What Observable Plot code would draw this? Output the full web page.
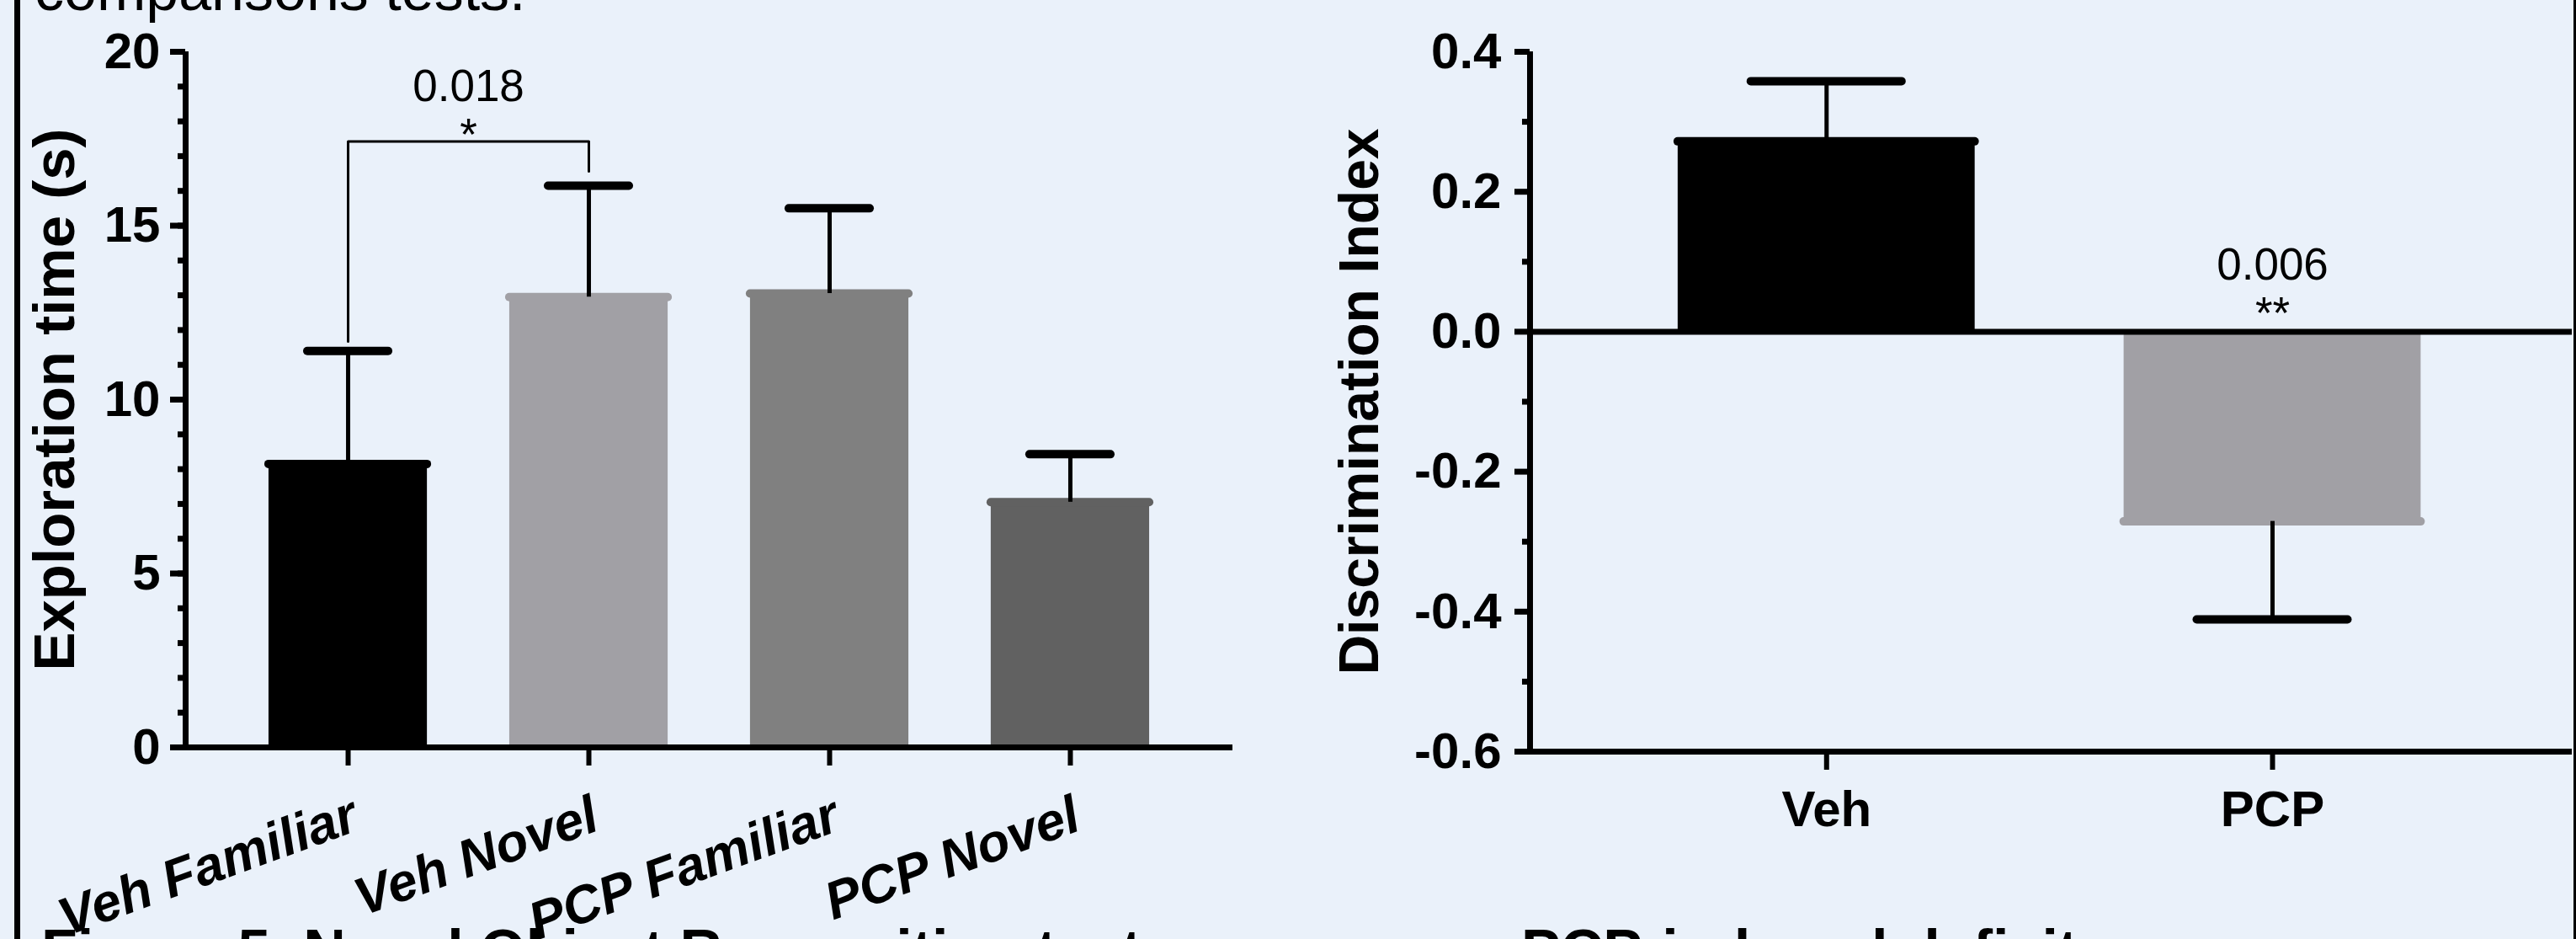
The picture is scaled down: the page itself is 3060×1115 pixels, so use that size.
<!DOCTYPE html>
<html>
<head>
<meta charset="utf-8">
<script src="https://cdn.jsdelivr.net/npm/d3@7"></script>
<script src="https://cdn.jsdelivr.net/npm/@observablehq/plot@0.6"></script>
<style>
  html, body { margin: 0; padding: 0; background: #EAF1FA; }
  #page { position: relative; width: 3060px; height: 1115px; overflow: hidden; background: #EAF1FA;
          font-family: "Liberation Sans", Arial, sans-serif; }
  .txt { position: absolute; white-space: nowrap; color: #000; z-index: 3; }
  .border { position: absolute; top: 0; height: 1115px; background: #000; z-index: 4; }
  .chart { position: absolute; top: 0; z-index: 1; }
  .chart svg { overflow: visible; }
</style>
</head>
<body>
<div id="page">
  <div class="txt" style="left:41px; top:-47px; font-size:70px; line-height:70px;">comparisons tests.</div>
  <div class="chart" id="left" style="left:0px;"></div>
  <div class="chart" id="right" style="left:1500px;"></div>
  <div class="txt" style="left:49px; top:1094px; font-size:70px; line-height:70px; font-weight:bold;">Figure 5. Novel Object Recognition test</div>
  <div class="txt" style="left:1807px; top:1094px; font-size:70px; line-height:70px; font-weight:bold;">PCP-induced deficit</div>
  <div class="border" style="left:17px; width:7px;"></div>
  <div class="border" style="left:3057px; width:3px;"></div>
</div>
<script>
// ---------- Left panel: exploration time ----------
const categories = ["Veh Familiar", "Veh Novel", "PCP Familiar", "PCP Novel"];
const explorationMean = [8.15, 12.95, 13.05, 7.05];
const explorationSem = [3.25, 3.2, 2.45, 1.38];
const barColors = ["#000000", "#A1A0A5", "#808080", "#616161"];
const yTicksLeft = [0, 5, 10, 15, 20];
const yMinorLeft = [0, 1, 2, 3, 4, 5, 6, 7, 8, 9, 10, 11, 12, 13, 14, 15, 16, 17, 18, 19, 20];
const yLabelLeft = "Exploration time (s)";
// significance bracket between Veh Familiar (0) and Veh Novel (1)
const bracketFrom = 0, bracketTo = 1;
const bracketTop = 17.42, bracketDropFrom = 11.67, bracketDropTo = 16.56;
const bracketP = "0.018", bracketStars = "*";
const bracketPY = 19.0, bracketStarsY = 17.6;

// ---------- Right panel: discrimination index ----------
const groups = ["Veh", "PCP"];
const diMean = [0.272, -0.271];
const diSem = [0.086, 0.14];
const diColors = ["#000000", "#A1A0A5"];
const yTicksRight = [-0.6, -0.4, -0.2, 0.0, 0.2, 0.4];
const yMinorRight = [-0.5, -0.3, -0.1, 0.1, 0.3];
const yLabelRight = "Discrimination Index";
const annotGroup = 1, annotP = "0.006", annotStars = "**";
const annotPY = 0.0955, annotStarsY = 0.0246;

// ---------- layout constants ----------
const FONT = "Liberation Sans, Arial, sans-serif";
const leftXDomain = [-0.675, 3.675];
const rightXDomain = [-0.665, 1.672];
const leftBarHalf = 0.329, leftCapHalf = 0.168;
const rightBarHalf = 0.333, rightCapHalf = 0.169;

const leftData = categories.map((c, i) => ({
  i, c, mean: explorationMean[i],
  tip: explorationMean[i] + Math.sign(explorationMean[i]) * explorationSem[i]
}));
const bracketPts = [
  {x: bracketFrom, y: bracketDropFrom},
  {x: bracketFrom, y: bracketTop},
  {x: bracketTo, y: bracketTop},
  {x: bracketTo, y: bracketDropTo}
];
const bracketMid = [{x: (bracketFrom + bracketTo) / 2}];

const leftPlot = Plot.plot({
  width: 1500, height: 1115,
  marginLeft: 220, marginRight: 36, marginTop: 61, marginBottom: 228,
  style: {background: "transparent", fontFamily: FONT, fontSize: "60px", fontWeight: "bold", color: "black", overflow: "visible"},
  x: {domain: leftXDomain},
  y: {domain: [0, 20]},
  color: {domain: categories, range: barColors},
  marks: [
    Plot.rectY(leftData, {x1: d => d.i - leftBarHalf, x2: d => d.i + leftBarHalf, y: "mean", fill: "c"}),
    Plot.ruleY(leftData, {x1: d => d.i - leftBarHalf, x2: d => d.i + leftBarHalf, y: "mean", stroke: "c", strokeWidth: 10, strokeLinecap: "round"}),
    Plot.ruleX(leftData, {x: "i", y1: "mean", y2: "tip", stroke: "black", strokeWidth: 5}),
    Plot.ruleY(leftData, {x1: d => d.i - leftCapHalf, x2: d => d.i + leftCapHalf, y: "tip", stroke: "black", strokeWidth: 10, strokeLinecap: "round"}),
    Plot.line(bracketPts, {x: "x", y: "y", stroke: "black", strokeWidth: 3}),
    Plot.text(bracketMid, {x: "x", y: () => bracketPY, text: () => bracketP, fontWeight: "normal", fontSize: 53}),
    Plot.text(bracketMid, {x: "x", y: () => bracketStarsY, text: () => bracketStars, fontWeight: "normal", fontSize: 53}),
    Plot.ruleY([0], {stroke: "black", strokeWidth: 7}),
    Plot.ruleX([leftXDomain[0]], {y1: 0, y2: 20, stroke: "black", strokeWidth: 7}),
    Plot.axisY({ticks: yMinorLeft, tickSize: 9, tickFormat: () => "", strokeWidth: 7, label: null}),
    Plot.axisY({ticks: yTicksLeft, tickSize: 18, tickPadding: 12, tickFormat: d => String(d), strokeWidth: 7, label: null}),
    Plot.axisY({ticks: [], label: yLabelLeft, labelAnchor: "center", labelArrow: "none", labelOffset: 182, fontSize: 69}),
    Plot.axisX({ticks: [0, 1, 2, 3], tickFormat: i => categories[i], tickSize: 22, tickPadding: 33, strokeWidth: 6,
                tickRotate: -20, textAnchor: "end", lineAnchor: "top", fontStyle: "italic", fontSize: 63, label: null})
  ]
});
document.getElementById("left").appendChild(leftPlot);

// ---------- right ----------
const rightData = groups.map((g, i) => ({
  i, g, mean: diMean[i],
  tip: diMean[i] + Math.sign(diMean[i]) * diSem[i]
}));
const annotPos = [{x: annotGroup}];

const rightPlot = Plot.plot({
  width: 1560, height: 1115,
  marginLeft: 317, marginRight: 5, marginTop: 61, marginBottom: 223,
  style: {background: "transparent", fontFamily: FONT, fontSize: "60px", fontWeight: "bold", color: "black", overflow: "visible"},
  x: {domain: rightXDomain},
  y: {domain: [-0.6, 0.4]},
  color: {domain: groups, range: diColors},
  marks: [
    Plot.rectY(rightData, {x1: d => d.i - rightBarHalf, x2: d => d.i + rightBarHalf, y: "mean", fill: "g"}),
    Plot.ruleY(rightData, {x1: d => d.i - rightBarHalf, x2: d => d.i + rightBarHalf, y: "mean", stroke: "g", strokeWidth: 10, strokeLinecap: "round"}),
    Plot.ruleX(rightData, {x: "i", y1: "mean", y2: "tip", stroke: "black", strokeWidth: 5}),
    Plot.ruleY(rightData, {x1: d => d.i - rightCapHalf, x2: d => d.i + rightCapHalf, y: "tip", stroke: "black", strokeWidth: 10, strokeLinecap: "round"}),
    Plot.text(annotPos, {x: "x", y: () => annotPY, text: () => annotP, fontWeight: "normal", fontSize: 53}),
    Plot.text(annotPos, {x: "x", y: () => annotStarsY, text: () => annotStars, fontWeight: "normal", fontSize: 53}),
    Plot.ruleY([0], {stroke: "black", strokeWidth: 7}),
    Plot.ruleY([-0.6], {stroke: "black", strokeWidth: 7}),
    Plot.ruleX([rightXDomain[0]], {y1: -0.6, y2: 0.4, stroke: "black", strokeWidth: 7}),
    Plot.axisY({ticks: yMinorRight, tickSize: 9, tickFormat: () => "", strokeWidth: 7, label: null}),
    Plot.axisY({ticks: yTicksRight, tickSize: 18, tickPadding: 16, tickFormat: d => d.toFixed(1), strokeWidth: 7, label: null}),
    Plot.axisY({ticks: [], label: yLabelRight, labelAnchor: "center", labelArrow: "none", labelOffset: 227, fontSize: 66}),
    Plot.axisX({ticks: [0, 1], tickFormat: i => groups[i], tickSize: 22, tickPadding: 24, strokeWidth: 6, label: null})
  ]
});
document.getElementById("right").appendChild(rightPlot);
</script>
</body>
</html>
